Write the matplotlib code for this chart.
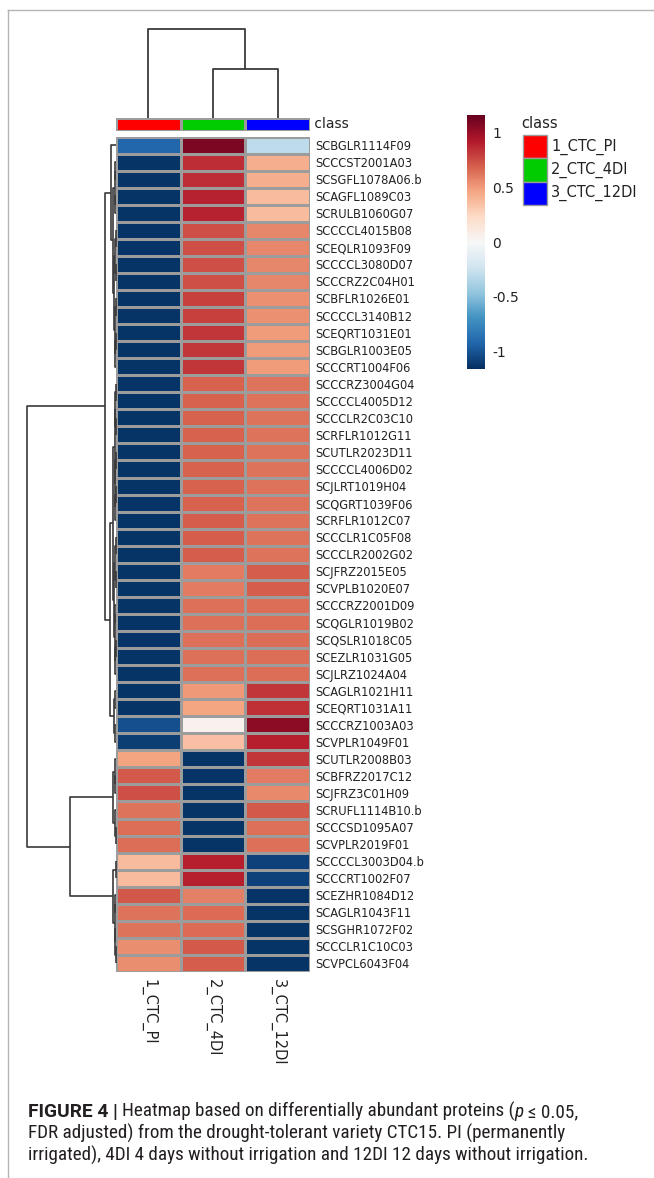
import matplotlib
matplotlib.use("Agg")
import matplotlib.pyplot as plt
import numpy as np
from matplotlib import font_manager
from matplotlib.colors import Normalize, ListedColormap
from matplotlib.cm import ScalarMappable
from matplotlib.patches import Rectangle

# ---------------------------------------------------------------- data
row_labels = [
    "SCBGLR1114F09", "SCCCST2001A03", "SCSGFL1078A06.b", "SCAGFL1089C03",
    "SCRULB1060G07", "SCCCCL4015B08", "SCEQLR1093F09", "SCCCCL3080D07",
    "SCCCRZ2C04H01", "SCBFLR1026E01", "SCCCCL3140B12", "SCEQRT1031E01",
    "SCBGLR1003E05", "SCCCRT1004F06", "SCCCRZ3004G04", "SCCCCL4005D12",
    "SCCCLR2C03C10", "SCRFLR1012G11", "SCUTLR2023D11", "SCCCCL4006D02",
    "SCJLRT1019H04", "SCQGRT1039F06", "SCRFLR1012C07", "SCCCLR1C05F08",
    "SCCCLR2002G02", "SCJFRZ2015E05", "SCVPLB1020E07", "SCCCRZ2001D09",
    "SCQGLR1019B02", "SCQSLR1018C05", "SCEZLR1031G05", "SCJLRZ1024A04",
    "SCAGLR1021H11", "SCEQRT1031A11", "SCCCRZ1003A03", "SCVPLR1049F01",
    "SCUTLR2008B03", "SCBFRZ2017C12", "SCJFRZ3C01H09", "SCRUFL1114B10.b",
    "SCCCSD1095A07", "SCVPLR2019F01", "SCCCCL3003D04.b", "SCCCRT1002F07",
    "SCEZHR1084D12", "SCAGLR1043F11", "SCSGHR1072F02", "SCCCLR1C10C03",
    "SCVPCL6043F04",
]
col_labels = ["1_CTC_PI", "2_CTC_4DI", "3_CTC_12DI"]
class_colors = ["#ff0000", "#00cc00", "#0000ff"]

pi_vals = [
    -0.92, -1.14, -1.14, -1.14, -1.14, -1.14, -1.14, -1.14, -1.14, -1.14,
    -1.14, -1.14, -1.14, -1.14, -1.14, -1.14, -1.14, -1.14, -1.14, -1.14,
    -1.14, -1.14, -1.14, -1.14, -1.14, -1.14, -1.14, -1.14, -1.14, -1.14,
    -1.14, -1.14, -1.14, -1.14, -1.02, -1.10,
    0.47, 0.71, 0.75, 0.63, 0.65, 0.65,
    0.37, 0.37, 0.72, 0.63, 0.63, 0.54, 0.54,
]
di4_vals = [
    1.09, 0.86, 0.86, 0.89, 0.89, 0.75, 0.75, 0.75, 0.75, 0.79,
    0.79, 0.83, 0.83, 0.83, 0.68, 0.68, 0.68, 0.68, 0.68, 0.68,
    0.68, 0.68, 0.70, 0.70, 0.70, 0.60, 0.60, 0.64, 0.64, 0.64,
    0.64, 0.64, 0.50, 0.46, 0.05, 0.35,
    -1.14, -1.14, -1.14, -1.14, -1.14, -1.14,
    0.90, 0.90, 0.58, 0.66, 0.66, 0.71, 0.70,
]
di12_vals = [
    -0.30, 0.42, 0.42, 0.37, 0.37, 0.57, 0.57, 0.57, 0.57, 0.53,
    0.53, 0.49, 0.49, 0.49, 0.63, 0.63, 0.63, 0.63, 0.63, 0.63,
    0.63, 0.63, 0.63, 0.63, 0.63, 0.70, 0.70, 0.65, 0.65, 0.65,
    0.65, 0.65, 0.83, 0.85, 1.04, 0.90,
    0.83, 0.60, 0.56, 0.71, 0.64, 0.64,
    -1.08, -1.08, -1.14, -1.14, -1.14, -1.14, -1.14,
]

cbar_ticks = [1, 0.5, 0, -0.5, -1]
cbar_tick_labels = ["1", "0.5", "0", "-0.5", "-1"]
value_limit = 1.16

# hierarchical clustering trees: (merge distance, left, right); ints are leaves
row_tree = (
    8.9,
    (1.1,
     (0.5, 0,
      (0.32,
       (0.14, (0.06, 1, 2), (0.08, 3, 4)),
       (0.22, (0.1, (0.04, 5, 6), (0.05, 7, 8)),
        (0.12, (0.05, 9, 10), (0.07, (0.03, 11, 12), 13))))),
     (0.6,
      (0.3,
       (0.15, (0.08, (0.04, 14, 15), (0.05, 16, 17)),
        (0.1, (0.05, 18, 19), (0.06, (0.03, 20, 21), 22))),
       (0.2, (0.09, (0.04, 23, 24), (0.05, 25, 26)),
        (0.12, (0.06, 27, 28), (0.07, (0.03, 29, 30), 31)))),
      (0.25, (0.1, 32, 33), (0.15, 34, 35)))),
    (4.6,
     (0.3, (0.15, 36, (0.08, 37, 38)), (0.12, 39, (0.05, 40, 41))),
     (0.3, (0.05, 42, 43), (0.15, (0.08, 44, 45), (0.1, 46, (0.05, 47, 48))))),
)
col_tree = (8.8, 0, (4.82, 1, 2))

caption_lines = [
    [("FIGURE 4", "bold", "normal"), (" ", "normal", "normal"), ("|", "bold", "normal"),
     (" ", "normal", "normal"),
     ("Heatmap based on differentially abundant proteins (", "normal", "normal"),
     ("p", "normal", "italic"), (" ", "normal", "normal"), ("\u2264 0.05,", "normal", "normal")],
    [("FDR adjusted) from the drought-tolerant variety CTC15. PI (permanently", "normal", "normal")],
    [("irrigated), 4DI 4 days without irrigation and 12DI 12 days without irrigation.", "normal", "normal")],
]

# ---------------------------------------------------------------- fonts
entries = font_manager.fontManager.ttflist
names = {f.name for f in entries}


def has_condensed(family):
    return any(f.name == family and "condensed" in str(f.stretch) for f in entries)


label_kw = dict(family="DejaVu Sans")
label_size = 8
if has_condensed("DejaVu Sans"):
    label_kw = dict(family="DejaVu Sans", fontstretch="condensed")
    label_size = 9.2

cap_kw = dict(family=["Liberation Sans", "DejaVu Sans"])
for fam in ["Roboto Condensed", "Liberation Sans Narrow", "Open Sans Condensed"]:
    if fam in names:
        cap_kw = dict(family=[fam, "DejaVu Sans"])
        break
else:
    for fam in ["Roboto", "Noto Sans", "Open Sans", "DejaVu Sans"]:
        if has_condensed(fam):
            cap_kw = dict(family=[fam, "DejaVu Sans"], fontstretch="condensed")
            break
# the bold run-in heading is set in a regular-width face
bold_kw = dict(family=["Roboto", "Liberation Sans", "DejaVu Sans"])

# ---------------------------------------------------------------- figure
W, H = 654, 1178
fig = plt.figure(figsize=(W / 100, H / 100), dpi=100)
fig.patch.set_facecolor("white")

TEXT = "#222222"
GRID = "#9c9c9c"
LINE = "#3a3a3a"


def px_axes(x0, y0, x1, y1, **kw):
    return fig.add_axes([x0 / W, 1 - y1 / H, (x1 - x0) / W, (y1 - y0) / H], **kw)


def draw_tree(ax, node, orient):
    if isinstance(node, int):
        return node + 0.5, 0.0
    h, left, right = node
    p1, h1 = draw_tree(ax, left, orient)
    p2, h2 = draw_tree(ax, right, orient)
    pos = [p1, p1, p2, p2]
    hts = [h1, h, h, h2]
    if orient == "top":
        ax.plot(pos, hts, color=LINE, lw=1.3, clip_on=False, solid_capstyle="butt")
    else:
        ax.plot(hts, pos, color=LINE, lw=1.2, clip_on=False, solid_capstyle="butt")
    return (p1 + p2) / 2, h


data = np.column_stack([pi_vals, di4_vals, di12_vals])
n_rows, n_cols = data.shape
norm = Normalize(vmin=-value_limit, vmax=value_limit)
cmap = plt.get_cmap("RdBu_r")

# heatmap
hx0, hx1, hy0, hy1 = 116, 310, 136.5, 972
ax = px_axes(hx0, hy0, hx1, hy1)
ax.pcolormesh(np.arange(n_cols + 1), np.arange(n_rows + 1), data, cmap=cmap, norm=norm,
              edgecolors=GRID, linewidth=1.0)
ax.set_xlim(0, n_cols)
ax.set_ylim(n_rows, 0)
ax.yaxis.tick_right()
ax.set_yticks(np.arange(n_rows) + 0.5)
ax.set_yticklabels(row_labels, fontsize=label_size, color=TEXT, **label_kw)
ax.set_xticks(np.arange(n_cols) + 0.5)
ax.set_xticklabels(col_labels, rotation=-90, fontsize=10.5, color=TEXT, va="top")
ax.tick_params(axis="y", length=0, pad=4)
ax.tick_params(axis="x", length=0, pad=5)
for s in ax.spines.values():
    s.set_visible(False)

# class bar
axc = px_axes(hx0, 117.5, hx1, 130.5)
axc.pcolormesh(np.arange(n_cols + 1), [0, 1], np.arange(n_cols)[None, :],
               cmap=ListedColormap(class_colors), vmin=-0.5, vmax=n_cols - 0.5,
               edgecolors=GRID, linewidth=1.0)
axc.set_xlim(0, n_cols)
axc.set_ylim(0, 1)
axc.set_axis_off()
axc.text(1.0, 0.5, " class", transform=axc.transAxes, ha="left", va="center",
         fontsize=10, color=TEXT)

# column dendrogram
axd = px_axes(hx0, 29, hx1, 117.5)
draw_tree(axd, col_tree, "top")
axd.set_xlim(0, n_cols)
axd.set_ylim(0, col_tree[0])
axd.set_axis_off()

# row dendrogram
axr = px_axes(20, hy0, hx0, hy1)
draw_tree(axr, row_tree, "left")
axr.set_xlim(9.6, 0)
axr.set_ylim(n_rows, 0)
axr.set_axis_off()

# colour bar
cax = px_axes(467, 115, 485, 369)
cb = fig.colorbar(ScalarMappable(norm=norm, cmap=cmap), cax=cax)
cb.outline.set_visible(False)
cb.set_ticks(cbar_ticks)
cb.set_ticklabels(cbar_tick_labels)
cax.tick_params(length=0, pad=5, labelsize=10, labelcolor=TEXT)

# overlay in pixel coordinates: frame, legend, caption
ov = fig.add_axes([0, 0, 1, 1], zorder=-1)
ov.set_xlim(0, W)
ov.set_ylim(H, 0)
ov.set_axis_off()
ov.plot([8, W], [10, 10], color="#b4b4b4", lw=1.0)
ov.plot([8, 8], [10, H], color="#b4b4b4", lw=1.0)

ovl = fig.add_axes([0, 0, 1, 1], zorder=2)
ovl.set_xlim(0, W)
ovl.set_ylim(H, 0)
ovl.set_axis_off()
ovl.text(521, 124, "class", fontsize=10.5, color=TEXT, ha="left", va="center")
for i, (name, colr) in enumerate(zip(col_labels, class_colors)):
    y0 = 135 + 23.3 * i
    ovl.add_patch(Rectangle((523, y0), 24, 23.3, facecolor=colr, edgecolor=GRID, lw=1.0))
    ovl.text(551, y0 + 11.6, name, fontsize=10.5, color=TEXT, ha="left", va="center")

# caption
renderer = fig.canvas.get_renderer()


def font_kw(weight):
    return bold_kw if weight == "bold" else cap_kw


def text_width(s, size, weight="normal", style="normal"):
    t = ovl.text(0, 0, s, fontsize=size, weight=weight, style=style, **font_kw(weight))
    w = t.get_window_extent(renderer).width
    t.remove()
    return w


probe = 10.0
base_w = text_width(caption_lines[2][0][0], probe)
cap_size = min(probe * 560.0 / base_w, 13.8)
baselines = [1117, 1139, 1161]
for line, yb in zip(caption_lines, baselines):
    x = 28.0
    for piece, weight, style in line:
        if piece == " ":
            x += text_width("x x", cap_size) - text_width("xx", cap_size)
            continue
        t = ovl.text(x, yb, piece, fontsize=cap_size, weight=weight, style=style,
                     color="#231f20", ha="left", va="baseline", **font_kw(weight))
        x += t.get_window_extent(renderer).width

fig.savefig("out.png", dpi=100)
